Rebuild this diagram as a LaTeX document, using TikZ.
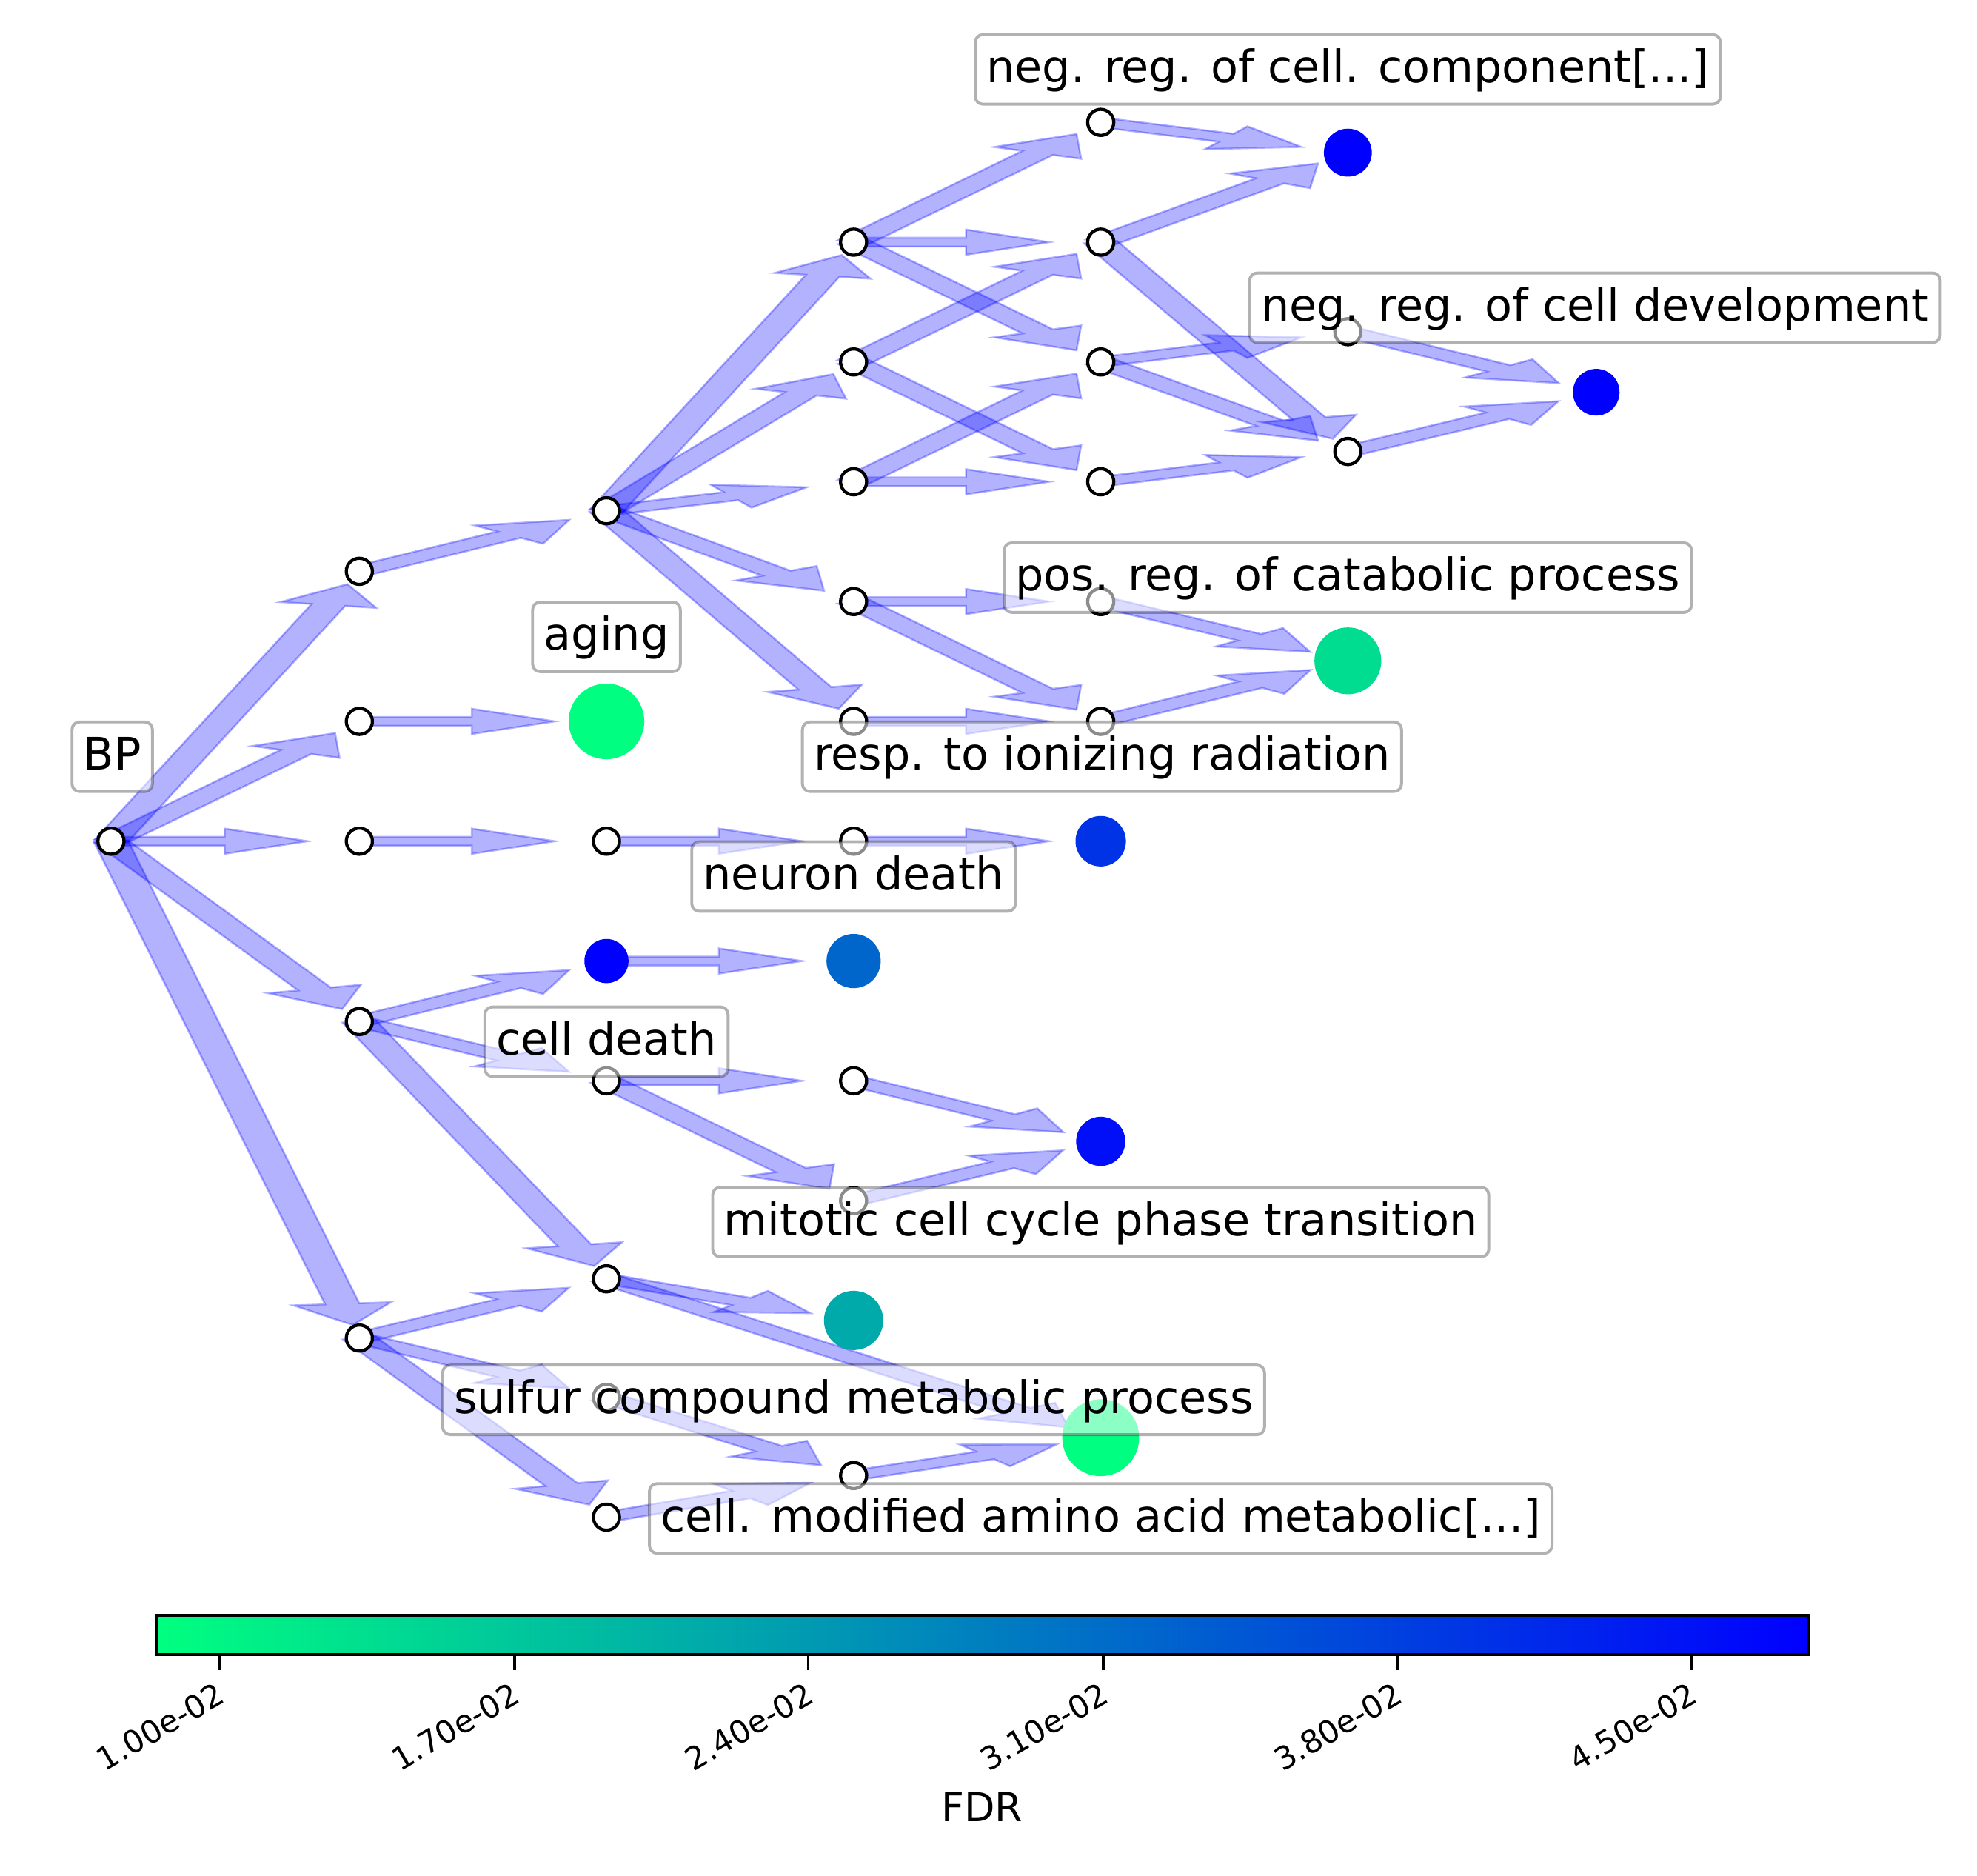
\documentclass[tikz,border=0pt]{standalone}
\usepackage{fontspec}
\setmainfont{DejaVu Sans}
\usepackage{xcolor}
\usetikzlibrary{calc}
\usetikzlibrary{backgrounds}

% winter 色表中用到的几个颜色
\definecolor{wgreen}{rgb}{0,1,0.5}
\definecolor{wmint}{rgb}{0,0.867,0.567}
\definecolor{wteal}{rgb}{0,0.667,0.667}
\definecolor{wsteel}{rgb}{0,0.4,0.8}
\definecolor{wroyal}{rgb}{0,0.2,0.9}
\definecolor{wdeep}{rgb}{0,0.06,0.97}

\begin{document}
\begin{tikzpicture}[x=0.1mm, y=-0.1mm]
        % ================= 样式 =================
        \tikzset{
            % 空心 GO 节点
            open_node/.style={circle, draw=black, fill=white, line width=0.25mm, minimum size=2.07mm, inner sep=0pt},
            % 着色节点 (FDR)
            fdr_node/.style={circle, fill=#1, draw=none, inner sep=0pt},
            % 半透明蓝色箭头
            go_arrow/.style={fill=blue, fill opacity=0.3, draw=blue, draw opacity=0.3, line width=0.15mm},
            % 圆角标签
            go_label/.style={draw=black, draw opacity=0.3, fill=white, fill opacity=0.55, text opacity=1,
                rounded corners=0.6mm, line width=0.23mm, inner xsep=0.9mm, inner ysep=1mm,
                text height=0.8em, text depth=0.2em, font=\fontsize{10.1pt}{12pt}\selectfont},
            tick_label/.style={font=\fontsize{7.1pt}{8pt}\selectfont, rotate=30}
        }
        \useasboundingbox (0,0) rectangle (1568,1487);

        % ================= 空心节点 =================
        \foreach \n/\x/\y in {bp/88/667,
            a1/285/453, a2/285/572, a3/285/667, a4/285/810, a5/285/1061,
            b1/481/405, b3/481/667, b5/481/857, b6/481/1014, b7/481/1108, b8/481/1203,
            c1/677/192, c2/677/287, c3/677/382, c4/677/477, c5/677/572, c6/677/667,
            c8/677/857, c9/677/952, c11/677/1170,
            d1/873/97, d2/873/192, d3/873/287, d4/873/382, d5/873/477, d6/873/572,
            e2/1069/263, e3/1069/358}
            \node[open_node] (\n) at (\x,\y) {};

        % ================= 着色节点 =================
        \node[fdr_node=wgreen, minimum size=6.0mm] (b2) at (481,572) {};
        \node[fdr_node=blue, minimum size=3.5mm] (b4) at (481,762) {};
        \node[fdr_node=wsteel, minimum size=4.3mm] (c7) at (677,762) {};
        \node[fdr_node=wteal, minimum size=4.7mm] (c10) at (677,1047) {};
        \node[fdr_node=wroyal, minimum size=4.0mm] (d7) at (873,667) {};
        \node[fdr_node=wdeep, minimum size=3.9mm] (d8) at (873,905) {};
        \node[fdr_node=wgreen, minimum size=6.1mm] (d9) at (873,1140) {};
        \node[fdr_node=blue, minimum size=3.8mm] (e1) at (1069,121) {};
        \node[fdr_node=wmint, minimum size=5.3mm] (e4) at (1069,524) {};
        \node[fdr_node=blue, minimum size=3.7mm] (f1) at (1266,311) {};

        % ================= 箭头 (x 方向拉伸 3.9 倍的数据坐标中作图) =================
        \begin{pgfonlayer}{background}
        \foreach \s/\t in {bp/a1, bp/a2, bp/a3, bp/a4, bp/a5,
            a1/b1, a2/b2, a3/b3, a4/b4, a4/b5, a4/b6, a5/b6, a5/b7, a5/b8,
            b1/c1, b1/c2, b1/c3, b1/c4, b1/c5, b3/c6, b4/c7, b5/c8, b5/c9,
            b6/c10, b6/d9, b7/c11, b8/c11,
            c1/d1, c1/d2, c1/d3, c2/d2, c2/d4, c3/d3, c3/d4, c4/d5, c4/d6,
            c5/d6, c6/d7, c8/d8, c9/d8, c11/d9,
            d1/e1, d2/e1, d2/e3, d3/e2, d3/e3, d4/e3, d5/e4, d6/e4,
            e2/f1, e3/f1} {
            \path let \p1=(\s.center), \p2=(\t.center) in
                coordinate (ga) at ({\x1/3.9},\y1)
                coordinate (gb) at ({\x2/3.9},\y2);
            \path coordinate (gt) at ($(gb)!1.05mm!(ga)$);
            \path coordinate (gh) at ($(gt)!1.69mm!(ga)$);
            \draw[go_arrow] let \p1=($(ga)!0.35mm!90:(gb)$), \p2=($(gh)!0.35mm!-90:(ga)$),
                \p3=($(gh)!1mm!-90:(ga)$), \p4=(gt), \p5=($(gh)!1mm!90:(ga)$),
                \p6=($(gh)!0.35mm!90:(ga)$), \p7=($(ga)!0.35mm!-90:(gb)$) in
                ({3.9*\x1},\y1) -- ({3.9*\x2},\y2) -- ({3.9*\x3},\y3) -- ({3.9*\x4},\y4)
                -- ({3.9*\x5},\y5) -- ({3.9*\x6},\y6) -- ({3.9*\x7},\y7) -- cycle;
        }
        \end{pgfonlayer}

        % ================= 标签 =================
        \node[go_label] (lab_comp) at (1069,55) {neg. reg. of cell. component[...]};
        \node[go_label] (lab_dev) at (1265,244) {neg. reg. of cell development};
        \node[go_label] (lab_cat) at (1069,458) {pos. reg. of catabolic process};
        \node[go_label] (lab_aging) at (481,505) {aging};
        \node[go_label] (lab_bp) at (89,600) {BP};
        \node[go_label] (lab_rad) at (874,600) {resp. to ionizing radiation};
        \node[go_label] (lab_neuron) at (677,695) {neuron death};
        \node[go_label] (lab_death) at (481,826) {cell death};
        \node[go_label] (lab_mito) at (873,969) {mitotic cell cycle phase transition};
        \node[go_label] (lab_sulfur) at (677,1110) {sulfur compound metabolic process};
        \node[go_label] (lab_amino) at (873,1204) {cell. modified amino acid metabolic[...]};

        % ================= 色标 =================
        \shade[left color=wgreen, right color=blue] (124,1281) rectangle (1434,1312);
        \draw[line width=0.25mm] (124,1281) rectangle (1434,1312);
        \foreach \v/\tx in {1.00e-02/174, 1.70e-02/408, 2.40e-02/641, 3.10e-02/875, 3.80e-02/1108, 4.50e-02/1342} {
            \draw[line width=0.22mm] (\tx,1312) -- (\tx,1324);
            \node[tick_label] (tick\tx) at (\tx-47,1369) {\v};
        }
        \node[font=\fontsize{9pt}{10pt}\selectfont] (fdr) at (779,1433) {FDR};

    \end{tikzpicture}
\end{document}
